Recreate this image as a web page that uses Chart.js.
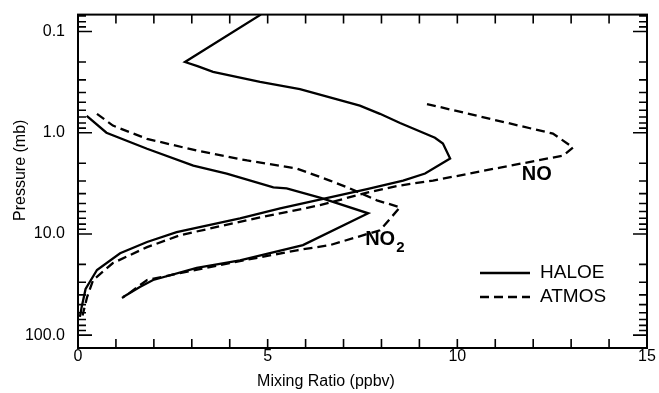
<!DOCTYPE html>
<html>
<head>
<meta charset="utf-8">
<script src="https://cdn.jsdelivr.net/npm/chart.js@4"></script>
<style>
  html, body { margin: 0; padding: 0; background: #fff; }
  canvas { display: block; }
</style>
</head>
<body>
<canvas id="chart" width="659" height="393"></canvas>
<script>
// HALOE NO profile, listed from the top of the profile downward
const haloeNOPressure = [0.068, 0.20, 0.22, 0.25, 0.315, 0.37, 0.54, 0.65, 0.80, 1.12, 1.28, 1.80, 2.53, 2.97, 3.6, 4.35, 5.6, 7.0, 9.6, 12.0, 15.5, 22.7, 35, 52, 66];
const haloeNOValue    = [4.82, 2.82, 3.15, 3.56, 4.80, 5.85, 7.43, 7.96, 8.49, 9.41, 9.62, 9.81, 9.15, 8.57, 7.62, 6.64, 5.33, 4.27, 2.6, 1.82, 1.11, 0.5, 0.2, 0.1, 0.05];

// ATMOS NO profile
const atmosNOPressure = [0.52, 1.02, 1.40, 1.68, 2.21, 2.97, 3.32, 3.9, 5.2, 7.3, 10.3, 13.5, 19.4, 28.5, 42, 64];
const atmosNOValue    = [9.2, 12.52, 13.05, 12.79, 11.13, 9.36, 8.49, 7.62, 6.38, 4.46, 2.69, 1.82, 0.92, 0.4, 0.24, 0.12];

// HALOE NO2 profile
const haloeNO2Pressure = [0.68, 1.0, 1.44, 2.11, 2.53, 3.47, 3.55, 4.4, 6.25, 12.9, 18.2, 21.7, 28.5, 33.4, 41.9];
const haloeNO2Value    = [0.23, 0.75, 1.82, 3.04, 3.92, 5.15, 5.5, 6.4, 7.65, 5.93, 4.27, 3.13, 1.98, 1.63, 1.19];

// ATMOS NO2 profile
const atmosNO2Pressure = [0.65, 0.85, 1.15, 1.5, 1.88, 2.26, 2.97, 3.55, 4.66, 5.45, 9.2, 12.9, 14.5, 19.4, 24.4, 28.5, 38, 42.9];
const atmosNO2Value    = [0.5, 0.92, 1.82, 3.13, 4.46, 5.77, 6.64, 7.17, 7.88, 8.49, 7.96, 6.64, 5.77, 4.0, 2.69, 1.82, 1.37, 1.16];

// Axis ticks and labels
const xLabelValues = [0, 5, 10, 15];
const xTickMarks = [1, 2, 3, 4, 5, 6, 7, 8, 9, 10, 11, 12, 13, 14];
const yLabelValues = [0.1, 1, 10, 100];
const yTickLabels = ['0.1', '1.0', '10.0', '100.0'];
const yMinorMarks = [0.07, 0.08, 0.09,
  0.2, 0.3, 0.4, 0.5, 0.6, 0.7, 0.8, 0.9,
  2, 3, 4, 5, 6, 7, 8, 9,
  20, 30, 40, 50, 60, 70, 80, 90];

const FONT = "'Liberation Sans', Arial, Helvetica, sans-serif";
const DASH = [9, 5];

function profile(values, pressures) {
  return values.map((v, i) => ({ x: v, y: pressures[i] }));
}

function lineSet(label, values, pressures, dashed) {
  return {
    label,
    data: profile(values, pressures),
    showLine: true,
    borderColor: '#000',
    borderWidth: 2.3,
    borderDash: dashed ? DASH : [],
    pointRadius: 0,
    fill: false,
    tension: 0
  };
}

// Frame, inward tick marks, axis titles, curve labels and legend
const decorations = {
  id: 'decorations',
  afterDraw(chart) {
    const { ctx, chartArea: a, scales: { x, y } } = chart;
    ctx.save();
    ctx.strokeStyle = '#000';
    ctx.fillStyle = '#000';

    ctx.lineWidth = 2;
    ctx.strokeRect(a.left, a.top, a.right - a.left, a.bottom - a.top);

    ctx.lineWidth = 1.6;
    ctx.beginPath();
    xTickMarks.forEach(v => {
      const px = x.getPixelForValue(v);
      ctx.moveTo(px, a.bottom); ctx.lineTo(px, a.bottom - 9);
      ctx.moveTo(px, a.top); ctx.lineTo(px, a.top + 9);
    });
    yMinorMarks.forEach(v => {
      const py = y.getPixelForValue(v);
      ctx.moveTo(a.left, py); ctx.lineTo(a.left + 8, py);
      ctx.moveTo(a.right, py); ctx.lineTo(a.right - 8, py);
    });
    yLabelValues.forEach(v => {
      const py = y.getPixelForValue(v);
      ctx.moveTo(a.left, py); ctx.lineTo(a.left + 14, py);
      ctx.moveTo(a.right, py); ctx.lineTo(a.right - 14, py);
    });
    ctx.stroke();

    // axis titles
    ctx.font = `16px ${FONT}`;
    ctx.textAlign = 'center';
    ctx.textBaseline = 'middle';
    ctx.fillText('Mixing Ratio (ppbv)', a.left + 248, 382);
    ctx.save();
    ctx.translate(21, (a.top + a.bottom) / 2 - 11);
    ctx.rotate(-Math.PI / 2);
    ctx.fillText('Pressure (mb)', 0, 0);
    ctx.restore();

    // curve labels
    ctx.font = `bold 20px ${FONT}`;
    ctx.textAlign = 'left';
    ctx.fillText('NO', x.getPixelForValue(11.7), y.getPixelForValue(2.6));
    const n2x = x.getPixelForValue(7.57), n2y = y.getPixelForValue(11.4);
    ctx.fillText('NO', n2x, n2y);
    const w = ctx.measureText('NO').width;
    ctx.font = `bold 15px ${FONT}`;
    ctx.fillText('2', n2x + w + 1, n2y + 8);

    // legend
    const lx0 = a.right - 167, lx1 = a.right - 117;
    const ly1 = a.bottom - 75, ly2 = a.bottom - 51;
    ctx.lineWidth = 2.3;
    ctx.beginPath();
    ctx.moveTo(lx0, ly1); ctx.lineTo(lx1, ly1);
    ctx.stroke();
    ctx.setLineDash(DASH);
    ctx.beginPath();
    ctx.moveTo(lx0, ly2); ctx.lineTo(lx1, ly2);
    ctx.stroke();
    ctx.setLineDash([]);
    ctx.font = `19px ${FONT}`;
    ctx.fillText('HALOE', lx1 + 10, ly1);
    ctx.fillText('ATMOS', lx1 + 10, ly2);
    ctx.restore();
  }
};

new Chart(document.getElementById('chart'), {
  type: 'scatter',
  data: {
    datasets: [
      lineSet('HALOE NO', haloeNOValue, haloeNOPressure, false),
      lineSet('ATMOS NO', atmosNOValue, atmosNOPressure, true),
      lineSet('HALOE NO2', haloeNO2Value, haloeNO2Pressure, false),
      lineSet('ATMOS NO2', atmosNO2Value, atmosNO2Pressure, true)
    ]
  },
  options: {
    responsive: false,
    animation: false,
    layout: { padding: { top: 13, right: 12, left: 0, bottom: 0 } },
    plugins: { legend: { display: false }, tooltip: { enabled: false } },
    scales: {
      x: {
        type: 'linear',
        min: 0, max: 15,
        grid: { display: false },
        border: { display: false },
        afterBuildTicks: s => { s.ticks = xLabelValues.map(v => ({ value: v })); },
        afterFit: s => { s.height = 45; },
        ticks: {
          color: '#000',
          padding: -9,
          maxRotation: 0,
          font: { family: FONT, size: 16 },
          callback: v => String(v)
        }
      },
      y: {
        type: 'logarithmic',
        reverse: true,
        min: 0.068, max: 134,
        grid: { display: false },
        border: { display: false },
        afterBuildTicks: s => { s.ticks = yLabelValues.map(v => ({ value: v })); },
        afterFit: s => { s.width = 78; },
        ticks: {
          color: '#000',
          padding: 5,
          font: { family: FONT, size: 16 },
          callback: (v, i) => yTickLabels[i]
        }
      }
    }
  },
  plugins: [decorations]
});
</script>
</body>
</html>
